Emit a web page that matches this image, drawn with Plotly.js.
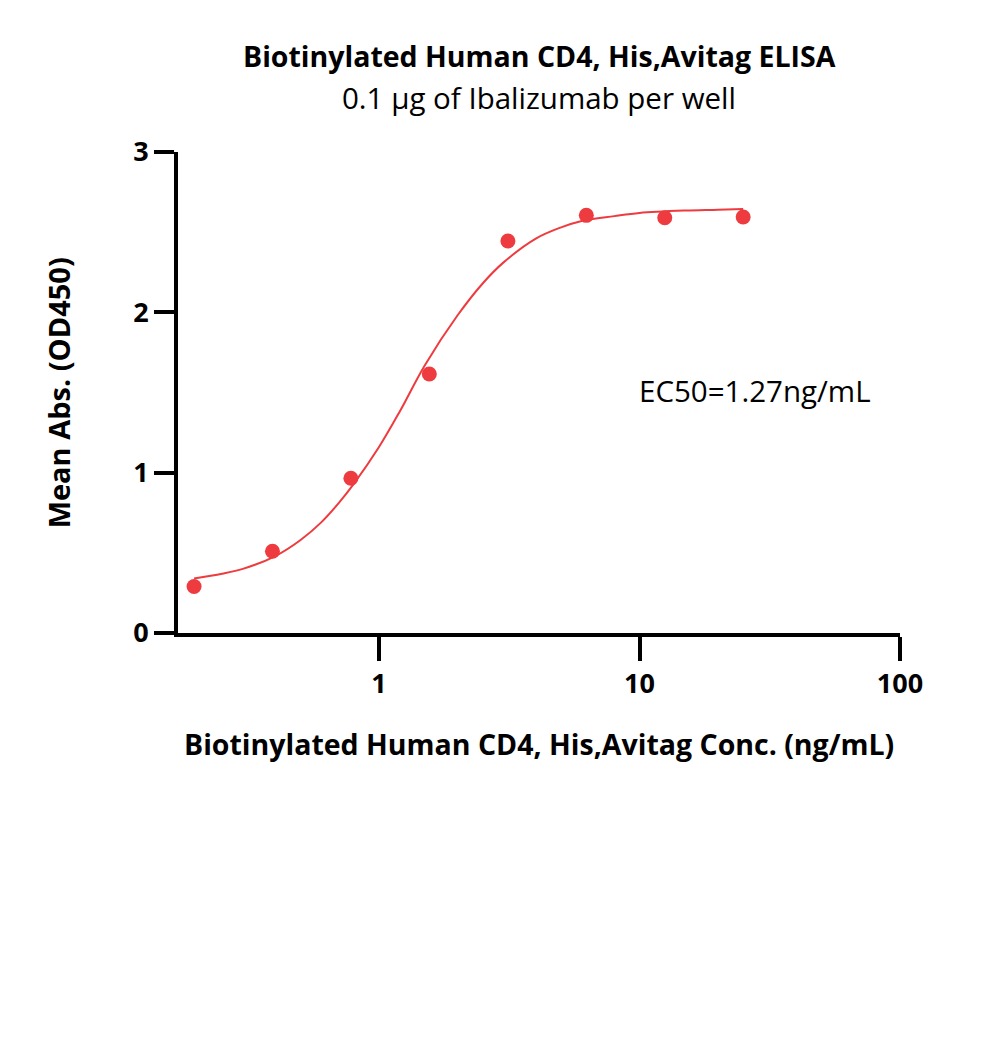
<!DOCTYPE html>
<html>
<head>
<meta charset="utf-8">
<script src="https://cdn.plot.ly/plotly-3.0.1.min.js"></script>
<style>html,body{margin:0;padding:0;background:#fff;}</style>
</head>
<body>
<div id="chart" style="width:1000px;height:1043px;"></div>
<script>
// Measured points
const concentration = [0.195, 0.39, 0.78, 1.56, 3.125, 6.25, 12.5, 25];
const meanAbs = [0.29, 0.51, 0.965, 1.615, 2.445, 2.605, 2.59, 2.595];

// Fitted curve
const curveX = [0.195, 0.25, 0.3, 0.4, 0.5, 0.6, 0.7, 0.8, 1.0, 1.2, 1.5, 2, 2.5, 3, 4, 5, 6, 8, 10, 15, 20, 25];
const curveY = [0.34, 0.37, 0.40, 0.48, 0.58, 0.69, 0.81, 0.93, 1.16, 1.38, 1.67, 1.98, 2.18, 2.31, 2.46, 2.53, 2.57, 2.60, 2.62, 2.635, 2.64, 2.645];

const xTicks = [1, 10, 100];
const xTickText = ["1", "10", "100"];
const yTicks = [0, 1, 2, 3];

const red = "#EE3B3F";
const font = "'Open Sans', Lato, sans-serif";

const traces = [
  {x: curveX, y: curveY, mode: "lines", line: {color: red, width: 2, shape: "spline"}, hoverinfo: "skip", showlegend: false},
  {x: concentration, y: meanAbs, mode: "markers", marker: {color: red, size: 15}, showlegend: false}
];

const layout = {
  width: 1000, height: 1043,
  margin: {l: 178, r: 100, t: 152, b: 410},
  paper_bgcolor: "#fff", plot_bgcolor: "#fff",
  font: {family: font, color: "#000"},
  showlegend: false,
  xaxis: {
    type: "log", range: [-0.7716, 2],
    tickvals: xTicks, ticktext: xTickText,
    showgrid: false, zeroline: false,
    showline: true, linecolor: "#000", linewidth: 4,
    ticks: "outside", ticklen: 24, tickwidth: 4, tickcolor: "#000",
    tickfont: {family: font, size: 27, color: "#000", weight: "bold"}
  },
  yaxis: {
    range: [0, 3], tickvals: yTicks,
    showgrid: false, zeroline: false,
    showline: true, linecolor: "#000", linewidth: 4,
    ticks: "outside", ticklen: 20, tickwidth: 4, tickcolor: "#000",
    tickfont: {family: font, size: 27, color: "#000", weight: "bold"}
  },
  annotations: [
    {text: "<b>Biotinylated Human CD4, His,Avitag ELISA</b>", xref: "paper", yref: "paper", x: 0.5, y: 1.1996, showarrow: false, xanchor: "center", yanchor: "middle", font: {family: font, size: 28.5, color: "#000"}},
    {text: "0.1 µg of Ibalizumab per well", xref: "paper", yref: "paper", x: 0.5, y: 1.114, showarrow: false, xanchor: "center", yanchor: "middle", font: {family: font, size: 29.5, color: "#000"}},
    {text: "<b>Biotinylated Human CD4, His,Avitag Conc. (ng/mL)</b>", xref: "paper", yref: "paper", x: 0.5, y: -0.231, showarrow: false, xanchor: "center", yanchor: "middle", font: {family: font, size: 28.5, color: "#000"}},
    {text: "<b>Mean Abs. (OD450)</b>", xref: "paper", yref: "paper", x: -0.165, y: 0.5, textangle: -90, showarrow: false, xanchor: "center", yanchor: "middle", font: {family: font, size: 29, color: "#000"}},
    {text: "EC50=1.27ng/mL", xref: "paper", yref: "paper", x: 0.799, y: 0.505, showarrow: false, xanchor: "center", yanchor: "middle", font: {family: font, size: 29.5, color: "#000"}}
  ]
};

Plotly.newPlot("chart", traces, layout, {displayModeBar: false, staticPlot: true});
</script>
</body>
</html>
